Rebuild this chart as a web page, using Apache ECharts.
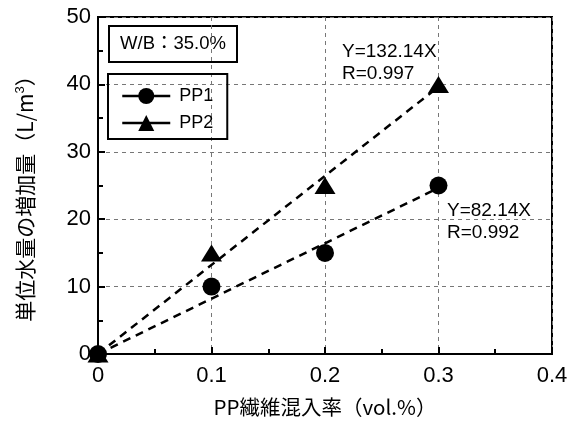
<!DOCTYPE html>
<html><head><meta charset="utf-8">
<script src="https://cdn.jsdelivr.net/npm/echarts@6/dist/echarts.min.js"></script>
<style>html,body{margin:0;padding:0;background:#fff}#c{width:579px;height:425px}</style>
</head><body><div id="c"></div>
<script>
const xValues = [0, 0.1, 0.2, 0.3];
const pp1 = [0, 10, 15, 25];
const pp2 = [0, 15, 25, 40];
const slope1 = 82.14, r1 = 0.992;
const slope2 = 132.14, r2 = 0.997;
const fitRange = [0, 0.3];
const xTicks = {min: 0, max: 0.4, interval: 0.1};
const yTicks = {min: 0, max: 50, interval: 10};
const xTitle = 'PP繊維混入率（vol.%）';
const yTitle = '単位水量の増加量（L/m';
const wbText = 'W/B：35.0%';

const chart = echarts.init(document.getElementById('c'));
const latin = '"Liberation Sans", Arial, "Noto Sans CJK JP", sans-serif';
const cjk = '"Noto Sans CJK JP", "Liberation Sans", sans-serif';
const pts = (ys) => xValues.map((x, i) => [x, ys[i]]);
const fit = (k) => fitRange.map(x => [x, k * x]);

chart.setOption({
  animation: false,
  backgroundColor: '#fff',
  grid: {left: 98, right: 27, top: 17, bottom: 71, show: true, borderColor: '#000', borderWidth: 2, backgroundColor: 'transparent'},
  xAxis: {
    type: 'value', min: xTicks.min, max: xTicks.max, interval: xTicks.interval,
    name: xTitle, nameLocation: 'middle', nameGap: 43,
    nameTextStyle: {fontFamily: cjk, fontSize: 20.5, color: '#000'},
    axisLine: {show: true, onZero: false, lineStyle: {color: '#000', width: 2}},
    axisTick: {show: true, inside: true, length: 7, lineStyle: {color: '#000', width: 2}},
    minorTick: {show: true, splitNumber: 2, length: 5, lineStyle: {color: '#000', width: 2}},
    axisLabel: {fontFamily: latin, fontSize: 22, color: '#000', margin: 11,
      formatter: v => String(Math.round(v * 10) / 10)},
    splitLine: {show: true, lineStyle: {color: '#777', width: 1, type: [4, 4]}}
  },
  yAxis: {
    type: 'value', min: yTicks.min, max: yTicks.max, interval: yTicks.interval,
    name: '{a|' + yTitle + '}{s|3}{a|）}', nameLocation: 'middle', nameGap: 61,
    nameTextStyle: {padding: [0, 16, 0, 0], rich: {
      a: {fontFamily: cjk, fontSize: 21, color: '#000'},
      s: {fontFamily: latin, fontSize: 13, color: '#000', verticalAlign: 'top', padding: [0, 0, 10, 0]}
    }},
    axisLine: {show: true, onZero: false, lineStyle: {color: '#000', width: 2}},
    axisTick: {show: true, inside: true, length: 7, lineStyle: {color: '#000', width: 2}},
    minorTick: {show: true, splitNumber: 2, length: 5, lineStyle: {color: '#000', width: 2}},
    axisLabel: {fontFamily: latin, fontSize: 22, color: '#000', margin: 7},
    splitLine: {show: true, lineStyle: {color: '#777', width: 1, type: [4, 4]}}
  },
  legend: {
    data: ['PP1', 'PP2'], orient: 'vertical', left: 108, top: 74,
    itemWidth: 48, itemHeight: 20, itemGap: 9,
    padding: [13, 14, 7, 13], borderColor: '#000', borderWidth: 2,
    textStyle: {fontFamily: latin, fontSize: 18, color: '#000', padding: [0, 0, 0, 4]},
    lineStyle: {color: '#000', width: 2.5, opacity: 1, type: 'solid'},
    itemStyle: {color: '#000', opacity: 1}
  },
  series: [
    {name: 'fit2', type: 'line', data: fit(slope2), symbol: 'none', silent: true,
      lineStyle: {color: '#000', width: 2.5, type: [8, 6]}},
    {name: 'fit1', type: 'line', data: fit(slope1), symbol: 'none', silent: true,
      lineStyle: {color: '#000', width: 2.5, type: [8, 6]}},
    {name: 'PP2', type: 'line', data: pts(pp2), symbol: 'triangle', symbolSize: [21, 17],
      clip: false, itemStyle: {color: '#000'}, lineStyle: {opacity: 0}},
    {name: 'PP1', type: 'line', data: pts(pp1), symbol: 'circle', symbolSize: 18,
      clip: false, itemStyle: {color: '#000'}, lineStyle: {opacity: 0}}
  ],
  graphic: [
    {type: 'group', left: 108, top: 25, children: [
      {type: 'rect', shape: {x: 0, y: 0, width: 128, height: 36},
        style: {fill: '#fff', stroke: '#000', lineWidth: 2}},
      {type: 'text', x: 64, y: 18, style: {text: wbText, fontFamily: latin, fontSize: 18.5,
        fill: '#000', align: 'center', verticalAlign: 'middle'}}
    ]},
    {type: 'text', x: 342, y: 52, style: {text: 'Y=' + slope2 + 'X', fontFamily: latin, fontSize: 19, fill: '#000', verticalAlign: 'middle'}},
    {type: 'text', x: 342, y: 74, style: {text: 'R=' + r2, fontFamily: latin, fontSize: 19, fill: '#000', verticalAlign: 'middle'}},
    {type: 'text', x: 447, y: 211, style: {text: 'Y=' + slope1 + 'X', fontFamily: latin, fontSize: 19, fill: '#000', verticalAlign: 'middle'}},
    {type: 'text', x: 447, y: 233, style: {text: 'R=' + r1, fontFamily: latin, fontSize: 19, fill: '#000', verticalAlign: 'middle'}}
  ]
});
</script></body></html>
